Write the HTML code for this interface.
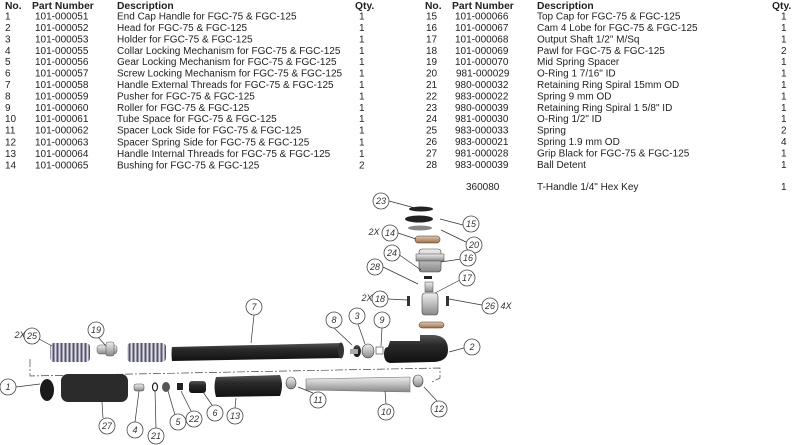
<!DOCTYPE html>
<html><head><meta charset="utf-8"><style>
html,body{margin:0;padding:0;background:#fff;}
svg{display:block;font-family:"Liberation Sans",sans-serif;}
.t{font-size:10px;fill:#222;}
.h{font-size:10.3px;font-weight:bold;fill:#222;}
.c{fill:#fff;stroke:#444;stroke-width:0.8;}
.l{font-size:9px;fill:#333;text-anchor:middle;font-style:italic;}
.ld{stroke:#333;stroke-width:0.7;fill:none;}
</style></head><body>
<svg width="792" height="445" viewBox="0 0 792 445">
<defs>
<linearGradient id="dk" x1="0" y1="0" x2="0" y2="1"><stop offset="0" stop-color="#555"/><stop offset="0.35" stop-color="#2a2a2a"/><stop offset="1" stop-color="#111"/></linearGradient>
<linearGradient id="sv" x1="0" y1="0" x2="0" y2="1"><stop offset="0" stop-color="#eee"/><stop offset="0.4" stop-color="#c8c8c8"/><stop offset="1" stop-color="#888"/></linearGradient>
<linearGradient id="br" x1="0" y1="0" x2="0" y2="1"><stop offset="0" stop-color="#e6c7a8"/><stop offset="1" stop-color="#a0704a"/></linearGradient>
<pattern id="sp" width="4" height="20" patternUnits="userSpaceOnUse"><rect width="4" height="20" fill="#dde"/><rect x="0.5" width="2" height="20" fill="#556"/></pattern>
</defs>
<g class="h">
<text x="5" y="9">No.</text><text x="32" y="9">Part Number</text><text x="117" y="9">Description</text><text x="355" y="9">Qty.</text>
<text x="425" y="9">No.</text><text x="452" y="9">Part Number</text><text x="537" y="9">Description</text><text x="772" y="9">Qty.</text>
</g>
<g class="t">
<text x="5" y="19.5">1</text><text x="35" y="19.5">101-000051</text><text x="117" y="19.5">End Cap Handle for FGC-75 &amp; FGC-125</text><text x="359" y="19.5">1</text>
<text x="5" y="31">2</text><text x="35" y="31">101-000052</text><text x="117" y="31">Head for FGC-75 &amp; FGC-125</text><text x="359" y="31">1</text>
<text x="5" y="42.4">3</text><text x="35" y="42.4">101-000053</text><text x="117" y="42.4">Holder for FGC-75 &amp; FGC-125</text><text x="359" y="42.4">1</text>
<text x="5" y="53.8">4</text><text x="35" y="53.8">101-000055</text><text x="117" y="53.8">Collar Locking Mechanism for FGC-75 &amp; FGC-125</text><text x="359" y="53.8">1</text>
<text x="5" y="65.2">5</text><text x="35" y="65.2">101-000056</text><text x="117" y="65.2">Gear Locking Mechanism for FGC-75 &amp; FGC-125</text><text x="359" y="65.2">1</text>
<text x="5" y="76.6">6</text><text x="35" y="76.6">101-000057</text><text x="117" y="76.6">Screw Locking Mechanism for FGC-75 &amp; FGC-125</text><text x="359" y="76.6">1</text>
<text x="5" y="88">7</text><text x="35" y="88">101-000058</text><text x="117" y="88">Handle External Threads for FGC-75 &amp; FGC-125</text><text x="359" y="88">1</text>
<text x="5" y="99.4">8</text><text x="35" y="99.4">101-000059</text><text x="117" y="99.4">Pusher for FGC-75 &amp; FGC-125</text><text x="359" y="99.4">1</text>
<text x="5" y="110.8">9</text><text x="35" y="110.8">101-000060</text><text x="117" y="110.8">Roller for FGC-75 &amp; FGC-125</text><text x="359" y="110.8">1</text>
<text x="5" y="122.2">10</text><text x="35" y="122.2">101-000061</text><text x="117" y="122.2">Tube Space for FGC-75 &amp; FGC-125</text><text x="359" y="122.2">1</text>
<text x="5" y="133.6">11</text><text x="35" y="133.6">101-000062</text><text x="117" y="133.6">Spacer Lock Side for FGC-75 &amp; FGC-125</text><text x="359" y="133.6">1</text>
<text x="5" y="145.5">12</text><text x="35" y="145.5">101-000063</text><text x="117" y="145.5">Spacer Spring Side for FGC-75 &amp; FGC-125</text><text x="359" y="145.5">1</text>
<text x="5" y="157">13</text><text x="35" y="157">101-000064</text><text x="117" y="157">Handle Internal Threads for FGC-75 &amp; FGC-125</text><text x="359" y="157">1</text>
<text x="5" y="168.4">14</text><text x="35" y="168.4">101-000065</text><text x="117" y="168.4">Bushing for FGC-75 &amp; FGC-125</text><text x="359" y="168.4">2</text>

<text x="426" y="19.5">15</text><text x="455" y="19.5">101-000066</text><text x="537" y="19.5">Top Cap for FGC-75 &amp; FGC-125</text><text x="781" y="19.5">1</text>
<text x="426" y="31">16</text><text x="455" y="31">101-000067</text><text x="537" y="31">Cam 4 Lobe for FGC-75 &amp; FGC-125</text><text x="781" y="31">1</text>
<text x="426" y="42.4">17</text><text x="455" y="42.4">101-000068</text><text x="537" y="42.4">Output Shaft 1/2" M/Sq</text><text x="781" y="42.4">1</text>
<text x="426" y="53.8">18</text><text x="455" y="53.8">101-000069</text><text x="537" y="53.8">Pawl for FGC-75 &amp; FGC-125</text><text x="781" y="53.8">2</text>
<text x="426" y="65.2">19</text><text x="455" y="65.2">101-000070</text><text x="537" y="65.2">Mid Spring Spacer</text><text x="781" y="65.2">1</text>
<text x="426" y="76.6">20</text><text x="456" y="76.6">981-000029</text><text x="537" y="76.6">O-Ring 1 7/16" ID</text><text x="781" y="76.6">1</text>
<text x="426" y="88">21</text><text x="455" y="88">980-000032</text><text x="537" y="88">Retaining Ring Spiral 15mm OD</text><text x="781" y="88">1</text>
<text x="426" y="99.4">22</text><text x="455" y="99.4">983-000022</text><text x="537" y="99.4">Spring 9 mm OD</text><text x="781" y="99.4">1</text>
<text x="426" y="110.8">23</text><text x="455" y="110.8">980-000039</text><text x="537" y="110.8">Retaining Ring Spiral 1 5/8" ID</text><text x="781" y="110.8">1</text>
<text x="426" y="122.2">24</text><text x="455" y="122.2">981-000030</text><text x="537" y="122.2">O-Ring 1/2" ID</text><text x="781" y="122.2">1</text>
<text x="426" y="133.6">25</text><text x="455" y="133.6">983-000033</text><text x="537" y="133.6">Spring</text><text x="781" y="133.6">2</text>
<text x="426" y="145">26</text><text x="455" y="145">983-000021</text><text x="537" y="145">Spring 1.9 mm OD</text><text x="781" y="145">4</text>
<text x="426" y="156.4">27</text><text x="455" y="156.4">981-000028</text><text x="537" y="156.4">Grip Black for FGC-75 &amp; FGC-125</text><text x="781" y="156.4">1</text>
<text x="426" y="167.8">28</text><text x="455" y="167.8">983-000039</text><text x="537" y="167.8">Ball Detent</text><text x="781" y="167.8">1</text>
<text x="466" y="190">360080</text><text x="537" y="190">T-Handle 1/4" Hex Key</text><text x="781" y="190">1</text>
</g>

<path d="M30,359 V376 L440,368 V378 L432,382" stroke="#444" stroke-width="0.7" fill="none" stroke-dasharray="8,2,2,2"/>

<rect x="50" y="343" width="40" height="19" rx="4" fill="url(#sp)"/>
<rect x="97" y="345" width="20" height="9" rx="3" fill="url(#sv)" stroke="#555" stroke-width="0.5"/>
<rect x="106" y="342" width="8" height="14" rx="2" fill="url(#sv)" stroke="#555" stroke-width="0.5"/>
<rect x="127" y="343" width="39" height="19" rx="4" fill="url(#sp)"/>
<path d="M172,347 Q171,353 172,361 L342,358 L342,343 Z" fill="url(#dk)"/>
<ellipse cx="341" cy="350.5" rx="3" ry="8" fill="#333"/>
<ellipse cx="357" cy="351" rx="4" ry="6" fill="url(#dk)"/>
<rect x="350" y="349" width="8" height="5" fill="#aaa"/>
<ellipse cx="368" cy="351" rx="6" ry="7" fill="url(#sv)" stroke="#333" stroke-width="0.6"/>
<rect x="376" y="347" width="7" height="7" fill="#fff" stroke="#333" stroke-width="0.6"/>
<path d="M388,347 Q384,347 384,354 Q384,362 390,363 L432,362 Q448,362 448,350 Q448,336 434,335 L420,335 L420,341 L390,341 Z" fill="url(#dk)"/>
<ellipse cx="421" cy="209" rx="12" ry="2.5" fill="#222"/>
<ellipse cx="419" cy="219" rx="14" ry="3.5" fill="#222"/>
<ellipse cx="420" cy="228" rx="12" ry="2.5" fill="#888"/>
<rect x="415" y="236" width="25" height="7" rx="3" fill="url(#br)" stroke="#333" stroke-width="0.5"/>
<rect x="419" y="249" width="22" height="23" rx="3" fill="url(#sv)" stroke="#444" stroke-width="0.6"/>
<rect x="416" y="254" width="28" height="7" fill="url(#sv)" stroke="#444" stroke-width="0.5"/>
<rect x="424" y="276" width="8" height="3" fill="#222"/>
<rect x="425" y="282" width="8" height="10" fill="url(#sv)" stroke="#444" stroke-width="0.5"/>
<rect x="422" y="293" width="16" height="22" rx="3" fill="url(#sv)" stroke="#444" stroke-width="0.6"/>
<rect x="407" y="296" width="3" height="10" fill="#333"/><rect x="446" y="296" width="3" height="10" fill="#333"/>
<rect x="419" y="322" width="25" height="6" rx="3" fill="url(#br)" stroke="#333" stroke-width="0.5"/>

<ellipse cx="47" cy="390" rx="7" ry="11" fill="#1a1a1a"/>
<rect x="61" y="374" width="67" height="28" rx="7" fill="#2b2b2b"/>
<rect x="134" y="384" width="10" height="7" rx="2" fill="url(#sv)" stroke="#444" stroke-width="0.5"/>
<ellipse cx="155" cy="387" rx="2.5" ry="4" fill="none" stroke="#222" stroke-width="1.2"/>
<ellipse cx="166" cy="387" rx="4" ry="5" fill="#555"/>
<rect x="177" y="383" width="6" height="7" fill="#222"/>
<rect x="189" y="381" width="17" height="12" rx="3" fill="url(#dk)"/>
<path d="M216,377 L280,375 Q284,385 280,396 L216,397 Q213,387 216,377Z" fill="url(#dk)"/>
<ellipse cx="291" cy="383" rx="5" ry="6" fill="url(#sv)" stroke="#333" stroke-width="0.6"/>
<path d="M306,379 L410,377 L410,392 L306,390Z" fill="url(#sv)" stroke="#777" stroke-width="0.6"/>
<ellipse cx="418" cy="381" rx="5" ry="6" fill="url(#sv)" stroke="#333" stroke-width="0.6"/>

<g class="ld">
<path d="M389,201 L415,208"/><path d="M398,233 L416,239"/><path d="M398,254 L421,270"/><path d="M383,267 L418,284"/><path d="M388,299 L407,300"/>
<path d="M39,339 L52,346"/><path d="M98,337 L106,346"/><path d="M254,315 L251,343"/><path d="M334,328 L352,345"/><path d="M358,324 L365,344"/><path d="M382,328 L381,346"/>
<path d="M16,387 L40,384"/><path d="M103,418 L102,402"/><path d="M135,422 L139,391"/><path d="M156,428 L155,391"/><path d="M175,415 L168,391"/><path d="M191,411 L181,391"/><path d="M212,405 L203,392"/><path d="M235,408 L236,398"/><path d="M313,393 L298,387"/><path d="M386,404 L385,391"/><path d="M437,401 L424,387"/>
<path d="M463,225 L440,219"/><path d="M466,242 L441,230"/><path d="M461,259 L441,262"/><path d="M460,280 L435,293"/><path d="M482,305 L449,299"/><path d="M464,348 L449,352"/>
</g>
<g>
<g class="c"><circle cx="381" cy="201" r="8"/><circle cx="390" cy="233" r="8"/><circle cx="392" cy="253" r="8"/><circle cx="375" cy="267" r="8"/><circle cx="380" cy="299" r="8"/>
<circle cx="32" cy="336" r="8"/><circle cx="96" cy="330" r="8"/><circle cx="254" cy="307" r="8"/><circle cx="334" cy="320" r="8"/><circle cx="357" cy="316" r="8"/><circle cx="382" cy="320" r="8"/>
<circle cx="8" cy="387" r="8"/><circle cx="107" cy="426" r="8"/><circle cx="135" cy="430" r="8"/><circle cx="156" cy="436" r="8"/><circle cx="178" cy="422" r="8"/><circle cx="194" cy="419" r="8"/><circle cx="215" cy="413" r="8"/><circle cx="235" cy="416" r="8"/><circle cx="318" cy="400" r="8"/><circle cx="386" cy="412" r="8"/><circle cx="439" cy="409" r="8"/>
<circle cx="471" cy="224" r="8"/><circle cx="474" cy="245" r="8"/><circle cx="468" cy="258" r="8"/><circle cx="467" cy="278" r="8"/><circle cx="490" cy="306" r="8"/><circle cx="472" cy="347" r="8"/></g>
<g class="l">
<text x="381" y="204">23</text><text x="390" y="236">14</text><text x="392" y="256">24</text><text x="375" y="270">28</text><text x="380" y="302">18</text>
<text x="32" y="339">25</text><text x="96" y="333">19</text><text x="254" y="310">7</text><text x="334" y="323">8</text><text x="357" y="319">3</text><text x="382" y="323">9</text>
<text x="8" y="390">1</text><text x="107" y="429">27</text><text x="135" y="433">4</text><text x="156" y="439">21</text><text x="178" y="425">5</text><text x="194" y="422">22</text><text x="215" y="416">6</text><text x="235" y="419">13</text><text x="318" y="403">11</text><text x="386" y="415">10</text><text x="439" y="412">12</text>
<text x="471" y="227">15</text><text x="474" y="248">20</text><text x="468" y="261">16</text><text x="467" y="281">17</text><text x="490" y="309">26</text><text x="472" y="350">2</text>
<text x="374" y="235">2X</text><text x="367" y="301">2X</text><text x="20" y="338">2X</text><text x="506" y="309">4X</text>
</g>
</g>
</svg>
</body></html>
